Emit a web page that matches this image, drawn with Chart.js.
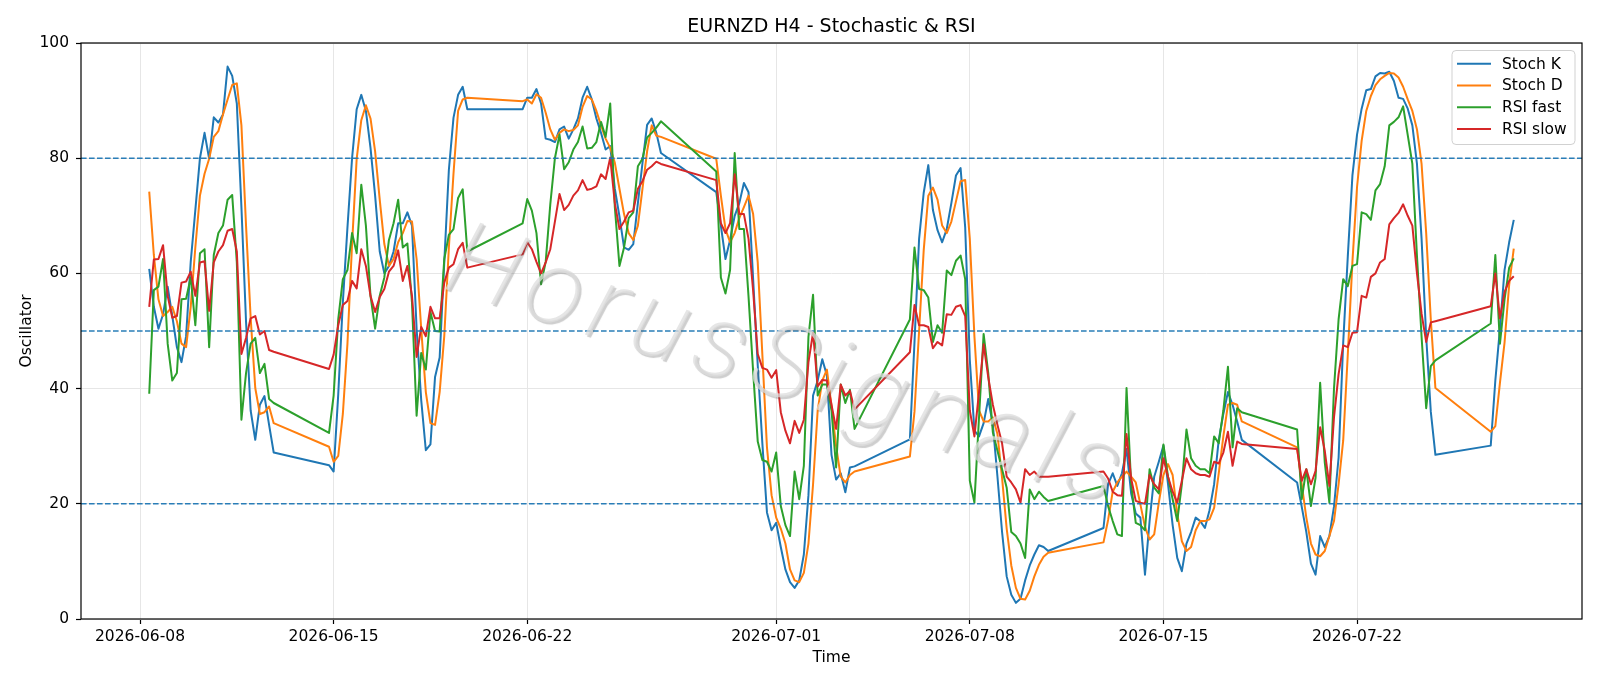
<!DOCTYPE html>
<html><head><meta charset="utf-8">
<script src="https://cdn.jsdelivr.net/npm/chart.js@4.4.1/dist/chart.umd.min.js"></script>
<style>html,body{margin:0;padding:0;background:#fff;}canvas{display:block;}</style>
</head><body>
<canvas id="c" width="1600" height="686"></canvas>
<script>
const TITLE = 'EURNZD H4 - Stochastic & RSI';
const X_LABEL = 'Time';
const Y_LABEL = 'Oscillator';
const WATERMARK = 'HorusSignals';
const tickDates = ['2026-06-08','2026-06-15','2026-06-22','2026-07-01','2026-07-08','2026-07-15','2026-07-22'];
const seriesNames = ['Stoch K','Stoch D','RSI fast','RSI slow'];
const levels = [20, 50, 80];

const stochK = [
60.8,54.2,50.4,52.9, 57.7,52.6,47.2,44.6,49.1,62, 71,80,84.4,79.9,87.1,86.2, 87.6,95.9,94.3,89.5,71.5,51.6, 36.2,31.1,37.2,38.7,33.7,28.9,
26.7, 25.6,39,55,68,80,88.5, 91.0,88.2,81.8,73.5,63.8,60.0, 61.3,63.8,68.7,68.7,70.6,68.3, 50.4,38,29.3,30.3,42.0,45.4, 61.9,78,87,91,92.4,88.5,
88.5, 90.5,90.5,92.0,89.5,83.4,83.2, 82.8,85.0,85.5,83.4,85.0,86.9, 90.5,92.4,90.2,86.9,84.4,81.5, 82.1,74.7,69.9,64.5,64.1,65.1, 72.2,79.2,85.8,86.9,84.4,80.9,
74.1, 68.3,62.5,65.8,70,72.2,75.7, 74.1,59,44,30.5,18.5,15.4, 16.7,12.5,8.6,6.4,5.4,6.7, 11.2,21.5,38.8,41.4,45.1,42.3, 28.5,24.2,25.3,22.0,26.3,26.5,
31.2, 48,66,74,78.8,71,67.5, 65.4,67.7,72.2,77.0,78.3,68, 45,32.7,31.7,34.0,38.2,33.7, 24.7,15.1,7.4,4.2,2.8,3.5, 6.7,9.3,11.2,12.8,12.5,11.8,
15.8, 23.4,25.3,23.1,25.3,29.5,21.8, 18.3,17.6,7.7,17.0,24.7,27.3, 30.1,23.4,16.3,10.6,8.3,13.1, 15.1,17.6,17.0,15.8,18.9,23.4, 31.1,35.6,39.4,37.2,34.3,31.1,
23.7, 19.5,15.1,9.6,7.7,14.4,12.5, 14.4,19.5,28,48,63,77, 84.1,88.6,91.8,92.0,94.2,94.8, 94.7,95.0,93.4,90.5,90.3,88.6, 85.7,79,66,49,36,28.5,
30.1, 41.4,50.4,60.6,65.4,69.3
];
const stochD = [
74.2,63.2,55.5,52.6, 53.3,54.2,51.7,47.8,47.2,54.2, 64.5,73.5,77.3,79.9,83.7,84.7, 87.6,90.2,92.7,93.0,85.7,68.3, 52.3,40.1,35.6,35.9,36.9,34.0,
29.9, 27.3,28.3,35.6,47.8,65.1,79.9, 86.6,89.2,86.9,81.2,72.8,65.1, 61.3,62.5,65.4,67.0,69.1,69.0, 62.5,50.4,39.4,34.0,33.7,39.4, 49.1,64.5,77.3,88.2,90.2,90.5,
89.9, 90.2,89.5,91.1,90.5,87.9,85.0, 83.2,84.4,85.0,84.7,84.9,85.7, 88.9,90.8,90.2,88.2,85.7,83.4, 81.8,79.2,74.7,70.3,67.0,65.8, 68.3,74.7,81.2,85.7,83.9,83.7,
79.9, 73.5,67.7,65.4,67.0,69.6,71.5, 73.5,70.3,61.9,45.9,29.8,21.5, 17.6,15.7,13.1,8.6,6.7,6.4, 8.0,13.1,23.4,36.2,41.4,43.3, 37,30,24.7,23.7,25.0,25.6,
28.2, 36,50,64,73.5,74.9,72.8, 68.3,67.0,69.0,72.5,76.0,76.2, 66,49.1,36.2,34.3,34.3,35.0, 32.1,24.5,15.7,9.3,5.4,3.5, 3.4,4.9,7.4,9.4,10.8,11.5,
13.3, 17.2,22.1,23.7,24.7,25.6,24.7, 23.7,19.9,16,13.8,14.7,20.2, 25.0,26.9,25.0,18.3,13.5,11.8, 12.5,15.4,17.0,17.0,17.3,19.3, 25.3,31.7,37.2,37.5,37.2,34.3,
29.8, 23.4,17.6,13.1,11.2,10.9,11.8, 14.4,17.0,23.4,31,46,62, 75,83,88.2,90.8,92.7,93.7, 94.3,94.8,94.7,94.0,92.4,90.2, 88.2,85.0,79,67,52,40.1,
32.5, 33.5,41,48,58,64.3
];
const rsiFast = [
39.1,57.1,57.7,62.5, 47.8,41.4,42.7,55.5,55.6,59.3, 51.0,63.5,64.2,47.2,63.2,67.0, 68.3,72.8,73.6,61.9,34.6,42.7, 47.8,48.8,42.7,44.3,38.2,37.5,
32.3, 38.8,52,59.0,60.6,67.0,63.5, 75.4,68.3,56.1,50.4,56.1,59.3, 65.8,68.7,72.8,64.5,65.2,54.9, 35.3,46.2,43.3,53.3,50.0,49.9, 62.5,66.7,67.7,73.1,74.6,63.8,
68.7, 72.9,70.9,67.0,58.1,62,72, 80,84.1,78.1,79.3,81.5,82.8, 85.5,81.7,81.8,82.8,86.3,83.7, 89.5,71.5,61.3,64.5,69.6,70.6, 78.6,79.9,83.6,84.4,85.3,86.4,
77.7, 59.3,56.5,60.6,80.9,67.7,67.7, 56,43,30.8,27.6,27.3,25.6, 28.9,19.6,16.3,14.4,25.6,20.8, 26.6,49,56.3,38.8,40.7,40.7, 36.2,26.3,40.7,37.5,39.8,33.0,
52.0, 64.5,57.3,57.1,55.8,48.1,51.0, 49.7,60.5,59.7,62.2,63.1,59.0, 24.0,20.2,35,49.5,42.7,32.4, 29.2,26.0,22.8,15.1,14.4,13.1, 10.6,22.5,20.8,22.1,21.2,20.5,
23.1, 19.6,17.0,14.7,14.4,40.1,23.4, 16.7,16.3,15.4,26.0,22.8,21.8, 30.3,24.7,20.8,17.0,23.4,32.9, 27.9,26.6,26.0,26.0,25.3,31.7, 30.5,36.2,43.8,29.8,36.6,35.9,
32.9, 20.8,26.0,19.6,24.5,41.0,27.2, 20.2,40,52,59.0,57.8,61.3, 61.6,70.6,70.3,69.3,74.4,75.5, 78.6,85.7,86.3,87.1,89.0,84, 79,63,49,36.6,43.9,44.9,
51.3, 63.2,47.8,55.5,61.0,62.6
];
const rsiSlow = [
54.2,62.4,62.5,64.9, 56.1,52.3,52.6,58.4,58.6,60.3, 56.1,61.9,62.1,53.5,61.9,63.8, 64.9,67.4,67.7,63.8,46.0,48.8, 52.2,52.6,49.4,50.0,46.7,46.4,
43.4, 45.9,51,54.5,55.2,58.7,57.4, 64.2,61.3,56.1,53.3,55.9,57.3, 60.3,61.3,64.0,58.7,61.3,56.1, 45.5,50.7,49.1,54.2,52.2,52.2, 58.4,61.0,61.6,64.2,65.3,61.0,
63.3, 65.4,64.2,62.0,60.0,61.9,64.2, 69.0,73.8,71.0,71.9,73.5,74.4, 76.2,74.5,74.7,75.1,77.2,76.4, 80.1,72.2,67.7,69.0,70.6,70.9, 74.7,76.0,78.0,78.6,79.4,79.0,
76.2, 68.7,67.0,68.7,77.2,70.3,70.3, 66,57,46,43.6,43.3,41.9, 43.2,35.9,32.7,30.5,34.4,32.3, 34.6,44.6,49.7,40.4,41.5,41.4, 37.2,33.0,40.7,38.8,39.6,36.4,
46.3, 54.5,51.0,51.0,50.7,47.0,48.1, 47.5,52.9,52.8,54.2,54.5,52.6, 36.2,31.7,39.4,47.7,42.0,37.2, 33.7,30.5,24.7,23.7,22.5,20.2, 26.0,25.0,25.6,24.7,24.7,24.7,
25.6, 24.4,22.1,21.5,21.4,32.1,24.4, 20.5,20.2,20.0,25.0,23.4,22.5, 27.9,24.7,22.1,20.2,24.0,27.9, 26.0,25.3,25.0,25.0,24.7,27.3, 27.0,28.9,32.5,26.6,30.8,30.4,
29.5, 24.0,26.0,23.4,25.7,33.3,29.2, 23.1,35,42.5,47.5,47.2,49.7, 49.8,56.1,55.8,59.4,60.0,61.9, 62.5,68.5,69.6,70.5,72.0,70.0, 68.3,60,53,48.1,51.5,51.7,
54.3, 60.0,52.2,56.8,58.7,59.5
];

// H4 trading calendar (Sun 20:00 .. Fri 20:00 UTC), first and last bar from the chart
const DAY = 86400000;
const origin = Date.UTC(2026, 5, 8);
const firstBar = Date.UTC(2026, 5, 8, 8);
const lastBar = Date.UTC(2026, 6, 27, 16);
const barDays = [];
for (let t = firstBar; t <= lastBar; t += 4 * 3600000) {
  const d = new Date(t), dow = d.getUTCDay(), h = d.getUTCHours();
  if (dow === 6 || (dow === 0 && h < 20)) continue;
  barDays.push((t - origin) / DAY);
}
[stochK, stochD, rsiFast, rsiSlow].forEach((a, i) => {
  if (a.length !== barDays.length) throw new Error('length mismatch ' + i + ': ' + a.length + ' vs ' + barDays.length);
});

const span = barDays[barDays.length - 1] - barDays[0];
const xMin = barDays[0] - 0.05 * span, xMax = barDays[barDays.length - 1] + 0.05 * span;
const tickVals = tickDates.map(s => (Date.parse(s + 'T00:00:00Z') - origin) / DAY);

const colors = ['#1f77b4', '#ff7f0e', '#2ca02c', '#d62728'];
const allSeries = [stochK, stochD, rsiFast, rsiSlow];
const FONT = '"DejaVu Sans", "Liberation Sans", sans-serif';

const datasets = allSeries.map((arr, i) => ({
  label: seriesNames[i],
  data: barDays.map((x, j) => ({ x: x, y: arr[j] })),
  borderColor: colors[i], borderWidth: 2, pointRadius: 0, tension: 0,
  fill: false, order: 4 - i, borderJoinStyle: 'round'
}));
levels.forEach(lv => datasets.push({
  label: 'level ' + lv,
  data: [{ x: xMin, y: lv }, { x: xMax, y: lv }],
  borderColor: 'rgba(31,119,180,0.95)', borderWidth: 1.5, borderDash: [5.6, 2.4],
  pointRadius: 0, fill: false, order: 0
}));

// choose a thin font for the watermark (fallback chain), keep DejaVu-like width
function ink(font) {
  const cv = document.createElement('canvas'); cv.width = 220; cv.height = 160;
  const g = cv.getContext('2d'); g.font = font; g.fillStyle = '#000'; g.fillText('Hlo', 10, 130);
  const d = g.getImageData(0, 0, 220, 160).data; let n = 0;
  for (let i = 3; i < d.length; i += 4) if (d[i] > 100) n++;
  return n;
}
const WM_SIZE = 104;
const refFont = 'italic 400 ' + WM_SIZE + 'px "DejaVu Sans"';
let wmFont = refFont;
(function () {
  const base = ink(refFont);
  const cands = ['italic 200 ' + WM_SIZE + 'px "DejaVu Sans"', 'italic 200 ' + WM_SIZE + 'px Roboto',
                 'italic 200 ' + WM_SIZE + 'px Lato', 'italic 200 ' + WM_SIZE + 'px Inter'];
  for (const f of cands) { if (ink(f) < base * 0.6) { wmFont = f; break; } }
})();

const decor = {
  id: 'decor',
  afterDatasetsDraw(chart) {
    const c = chart.ctx;
    c.save();
    c.font = refFont;
    const target = c.measureText(WATERMARK).width * 1.05;
    c.font = wmFont;
    const w = c.measureText(WATERMARK).width;
    if ('letterSpacing' in c && w < target) c.letterSpacing = ((target - w) / WATERMARK.length).toFixed(2) + 'px';
    c.translate(788, 373);
    c.rotate(18 * Math.PI / 180);
    c.textAlign = 'center';
    c.textBaseline = 'middle';
    c.shadowColor = 'rgba(90,90,90,0.4)';
    c.shadowOffsetX = 2; c.shadowOffsetY = 2; c.shadowBlur = 0.8;
    c.fillStyle = 'rgba(222,222,222,0.75)';
    c.fillText(WATERMARK, 0, 0);
    c.restore();
  },
  afterDraw(chart) {
    const c = chart.ctx, a = chart.chartArea;
    c.save();
    c.strokeStyle = '#000'; c.lineWidth = 1.2;
    c.strokeRect(a.left, a.top, a.right - a.left, a.bottom - a.top);
    c.fillStyle = '#000';
    c.textAlign = 'center'; c.textBaseline = 'alphabetic';
    c.font = '19px ' + FONT;
    c.fillText(TITLE, (a.left + a.right) / 2, 31.5);
    c.font = '15.5px ' + FONT;
    c.fillText(X_LABEL, (a.left + a.right) / 2, 661.5);
    c.save();
    c.translate(31, (a.top + a.bottom) / 2);
    c.rotate(-Math.PI / 2);
    c.fillText(Y_LABEL, 0, 0);
    c.restore();
    const bx = 1452, by = 50.5, bw = 123, bh = 94, r = 4;
    c.beginPath();
    c.moveTo(bx + r, by); c.lineTo(bx + bw - r, by); c.quadraticCurveTo(bx + bw, by, bx + bw, by + r);
    c.lineTo(bx + bw, by + bh - r); c.quadraticCurveTo(bx + bw, by + bh, bx + bw - r, by + bh);
    c.lineTo(bx + r, by + bh); c.quadraticCurveTo(bx, by + bh, bx, by + bh - r);
    c.lineTo(bx, by + r); c.quadraticCurveTo(bx, by, bx + r, by);
    c.closePath();
    c.fillStyle = 'rgba(255,255,255,0.85)'; c.fill();
    c.strokeStyle = 'rgba(204,204,204,0.9)'; c.lineWidth = 1; c.stroke();
    const rowsY = [63.8, 85.5, 107.2, 128.9];
    c.textAlign = 'left'; c.textBaseline = 'middle';
    c.font = '15.5px ' + FONT;
    seriesNames.forEach((n, i) => {
      c.strokeStyle = colors[i]; c.lineWidth = 2;
      c.beginPath(); c.moveTo(1457, rowsY[i]); c.lineTo(1491, rowsY[i]); c.stroke();
      c.fillStyle = '#000';
      c.fillText(n, 1502, rowsY[i] + 0.8);
    });
    c.restore();
  }
};

new Chart(document.getElementById('c').getContext('2d'), {
  type: 'line',
  data: { datasets: datasets },
  options: {
    responsive: false, animation: false, devicePixelRatio: 1,
    layout: { padding: { top: 43, right: 18, left: 0, bottom: 0 } },
    plugins: { legend: { display: false }, title: { display: false }, tooltip: { enabled: false } },
    scales: {
      x: {
        type: 'linear', min: xMin, max: xMax,
        afterBuildTicks: s => { s.ticks = tickVals.map(v => ({ value: v })); },
        afterFit: s => { s.height = 67; },
        border: { display: false },
        grid: { color: '#e6e6e6', lineWidth: 1, drawTicks: true, tickLength: 5, tickColor: '#000', tickWidth: 1.2 },
        ticks: { autoSkip: false, maxRotation: 0, minRotation: 0, padding: 4, color: '#000',
                 font: { family: FONT, size: 15.5 }, callback: (v, i) => tickDates[i] }
      },
      y: {
        min: 0, max: 100,
        afterFit: s => { s.width = 81; },
        border: { display: false },
        grid: { color: '#e6e6e6', lineWidth: 1, drawTicks: true, tickLength: 5, tickColor: '#000', tickWidth: 1.2 },
        ticks: { stepSize: 20, padding: 7, color: '#000', font: { family: FONT, size: 15.5 } }
      }
    }
  },
  plugins: [decor]
});
</script>
</body></html>
